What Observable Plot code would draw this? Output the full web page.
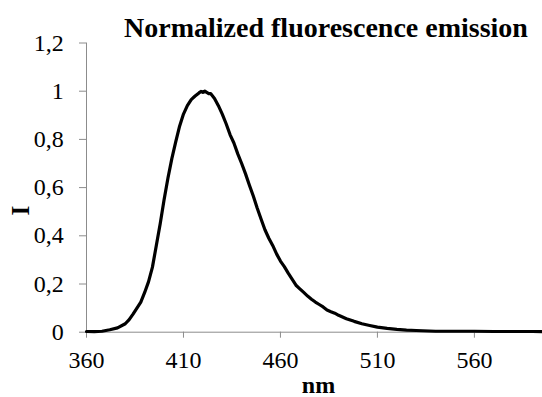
<!DOCTYPE html>
<html>
<head>
<meta charset="utf-8">
<script src="https://cdn.jsdelivr.net/npm/d3@7"></script>
<script src="https://cdn.jsdelivr.net/npm/@observablehq/plot@0.6"></script>
<style>
  html, body { margin: 0; padding: 0; background: #fff; }
  #chart { width: 542px; height: 397px; }
  #chart svg, #chart svg text { font-family: "Liberation Serif", "Times New Roman", serif !important; }
</style>
</head>
<body>
<div id="chart"></div>
<script>
// Data (wavelength nm, normalized intensity)
const wavelength = [360,364,368,372,376,380,382,384,386,388,390,392,394,396,398,400,402,404,406,408,410,412,414,416,418,419,420,421,422,423,424,426,428,430,432,434,436,438,440,442,444,446,448,450,452,454,456,458,460,462,464,466,468,470,472,474,476,478,480,482,484,486,488,490,494,498,502,506,510,515,520,525,530,540,550,560,570,580,590,595];
const intensity  = [0.003,0.002,0.004,0.010,0.018,0.035,0.052,0.075,0.100,0.125,0.165,0.210,0.270,0.360,0.450,0.550,0.640,0.720,0.790,0.855,0.905,0.940,0.965,0.980,0.993,0.999,0.995,1.000,0.995,0.990,0.990,0.970,0.940,0.905,0.865,0.820,0.785,0.740,0.700,0.657,0.610,0.565,0.515,0.470,0.425,0.390,0.360,0.325,0.295,0.272,0.245,0.220,0.195,0.180,0.165,0.150,0.137,0.125,0.115,0.105,0.092,0.085,0.079,0.070,0.056,0.045,0.035,0.028,0.021,0.016,0.012,0.009,0.007,0.004,0.004,0.004,0.003,0.003,0.003,0.002];
const xTicks = [360,410,460,510,560];
const yTicks = [0,0.2,0.4,0.6,0.8,1,1.2];
const xDomain = [360, 594.6];
const yDomain = [0, 1.2];
const title = "Normalized fluorescence emission";
const xLabel = "nm";
const yLabel = "I";

const data = wavelength.map((w, i) => ({w, v: intensity[i]}));
const axisColor = "#8c8c8c";
const serif = "Liberation Serif";
const fmt = d => String(d).replace(".", ",");

const plot = Plot.plot({
  width: 542,
  height: 397,
  marginTop: 42.5,
  marginBottom: 65.3,
  marginLeft: 86,
  marginRight: 1,
  style: {fontFamily: serif, fontSize: "24px", background: "#fff", color: "#000"},
  x: {domain: xDomain},
  y: {domain: yDomain},
  marks: [
    Plot.axisX({ticks: xTicks, tickSize: 6, tickPadding: 13, tickFormat: d => String(d), stroke: axisColor, fill: "#000", fontSize: 24, fontFamily: serif, label: null}),
    Plot.axisY({ticks: yTicks, tickSize: 7, tickPadding: 15.7, tickFormat: fmt, stroke: axisColor, fill: "#000", fontSize: 24, fontFamily: serif, label: null}),
    Plot.ruleY([yDomain[0]], {stroke: axisColor, strokeWidth: 1}),
    Plot.ruleX([xDomain[0]], {stroke: axisColor, strokeWidth: 1}),
    Plot.line(data, {x: "w", y: "v", stroke: "#000", strokeWidth: 3.2, curve: "linear"})
  ]
});
document.getElementById("chart").appendChild(plot);

const svg = d3.select(plot);
svg.append("text")
  .attr("x", 326).attr("y", 37)
  .attr("text-anchor", "middle")
  .attr("font-weight", "bold")
  .attr("font-size", 28)
  .attr("font-family", serif)
  .attr("fill", "#000")
  .text(title);
svg.append("text")
  .attr("x", 318.5).attr("y", 393)
  .attr("text-anchor", "middle")
  .attr("font-weight", "bold")
  .attr("font-size", 24)
  .attr("font-family", serif)
  .attr("fill", "#000")
  .text(xLabel);
svg.append("text")
  .attr("transform", "translate(29.3,210.7) rotate(-90)")
  .attr("text-anchor", "middle")
  .attr("font-weight", "bold")
  .attr("font-size", 25)
  .attr("font-family", serif)
  .attr("fill", "#000")
  .text(yLabel);
</script>
</body>
</html>
